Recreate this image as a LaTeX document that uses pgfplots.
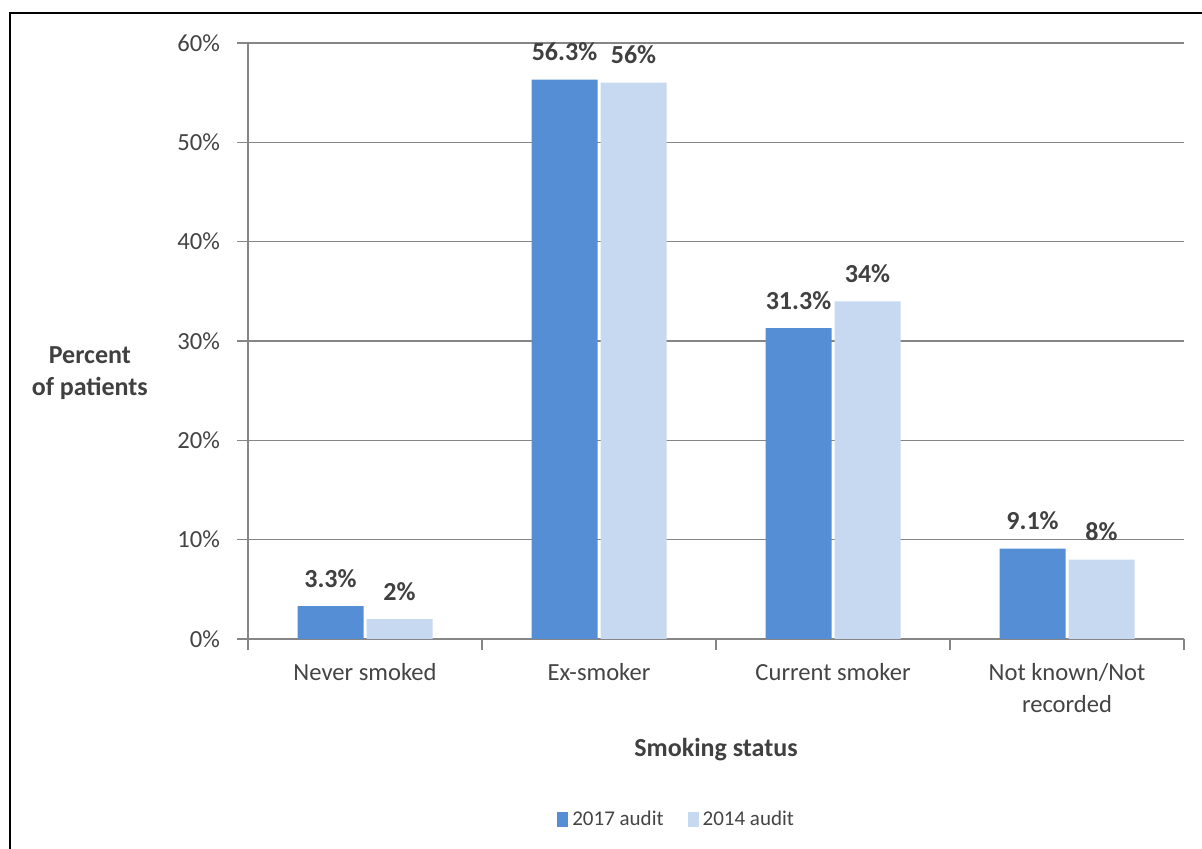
\documentclass[border=0pt]{standalone}
\usepackage{pgfplots}
\pgfplotsset{compat=1.18}
\usepackage{fontspec}
\setmainfont{Carlito}
\definecolor{c17}{RGB}{85,142,213}
\definecolor{c14}{RGB}{198,217,241}
\definecolor{gridc}{RGB}{134,134,134}
\definecolor{txt}{RGB}{68,68,68}
\definecolor{btxt}{RGB}{64,64,64}
\begin{document}
\begin{tikzpicture}[x=1pt,y=1pt]
\useasboundingbox (0,0) rectangle (601,424.5);
\draw[black,line width=1pt] (5,-2) -- (5,418) -- (603,418);
\begin{axis}[
  at={(124pt,105pt)}, anchor=south west,
  scale only axis, width=468pt, height=298pt,
  xmin=-0.5, xmax=3.5, ymin=0, ymax=60,
  ybar=1.5pt, bar width=33pt,
  axis lines*=left,
  axis line style={gridc, line width=0.8pt},
  ymajorgrids, grid style={gridc, line width=0.8pt},
  xtick={0,1,2,3},
  xticklabels={Never smoked, Ex-smoker, Current smoker, Not known/Not\\recorded},
  xticklabel style={align=center, font=\fontsize{12.3}{16}\selectfont, text=txt, yshift=-3pt},
  major x tick style={draw=none},
  minor xtick={-0.5,0.5,1.5,2.5,3.5},
  minor tick length=5.5pt, major tick length=5.5pt,
  tick align=outside,
  tick style={gridc, line width=0.8pt},
  ytick={0,10,20,30,40,50,60},
  yticklabels={0\%,10\%,20\%,30\%,40\%,50\%,60\%},
  yticklabel style={font=\fontsize{12.3}{14}\selectfont, text=txt, xshift=-5pt},
  ylabel={Percent\\of patients},
  ylabel style={rotate=-90, align=center, at={(axis description cs:-0.169,0.446)}, anchor=center, font=\bfseries\fontsize{13}{16}\selectfont, text=btxt},
  xlabel={Smoking status},
  xlabel style={at={(axis description cs:0.5,-0.185)}, anchor=center, font=\bfseries\fontsize{13}{16}\selectfont, text=btxt},
  point meta=explicit symbolic,
  nodes near coords,
  every node near coord/.append style={anchor=base, yshift=9.5pt, font=\bfseries\fontsize{13}{15}\selectfont, text=btxt},
  legend style={at={(0.459,-0.303)}, anchor=center, draw=none, legend columns=2, font=\fontsize{10.5}{13}\selectfont, text=txt, /tikz/every even column/.append style={column sep=10pt}},
  legend image code/.code={\fill[#1] (0pt,-3.8pt) rectangle (5.5pt,3.8pt);},
]
\addplot[fill=c17, draw=none] coordinates {(0,3.3) [3.3\%] (1,56.3) [56.3\%] (2,31.3) [31.3\%] (3,9.1) [9.1\%]};
\addplot[fill=c14, draw=none] coordinates {(0,2) [2\%] (1,56) [56\%] (2,34) [34\%] (3,8) [8\%]};
\legend{2017 audit, 2014 audit}
\end{axis}
\end{tikzpicture}
\end{document}
